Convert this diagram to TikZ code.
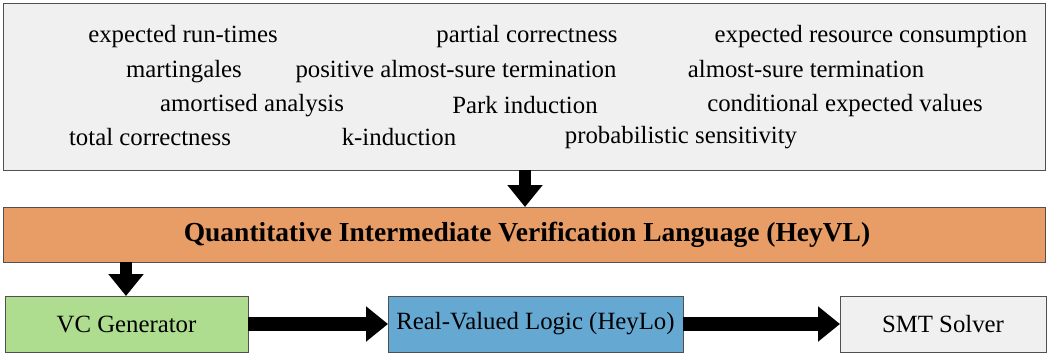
\documentclass[tikz,border=0pt]{standalone}
\usepackage{fontspec}
\setmainfont{Liberation Serif}
\usetikzlibrary{arrows.meta}
\definecolor{boxgray}{HTML}{F0F0F0}
\definecolor{edgegray}{HTML}{505050}
\definecolor{heyorange}{HTML}{E89D66}
\definecolor{heygreen}{HTML}{AEDD8F}
\definecolor{heyblue}{HTML}{65A9D3}
\tikzset{
  panel/.style={draw=edgegray, line width=1pt, inner sep=0pt, outer sep=0pt},
  term/.style={font=\fontsize{24.8}{28}\selectfont, inner sep=0pt, anchor=base},
  boxtext/.style={font=\fontsize{24.8}{28}\selectfont, inner sep=0pt},
  bigarrow/.style={line width=12pt, -{Triangle[length=22pt,width=34pt]}},
}
\begin{document}
\begin{tikzpicture}[x=1pt,y=-1pt]
\useasboundingbox (0,0) rectangle (1050,354);
% top panel
\node[panel, fill=boxgray, minimum width=1042pt, minimum height=167pt, anchor=north west] (top) at (3,3) {};
% terms
\node[term] (t1) at (183,42) {expected run-times};
\node[term] (t2) at (527,42) {partial correctness};
\node[term] (t3) at (871,42) {expected resource consumption};
\node[term] (t4) at (184,77) {martingales};
\node[term] (t5) at (456,77) {positive almost-sure termination};
\node[term] (t6) at (806,77) {almost-sure termination};
\node[term] (t7) at (252,111) {amortised analysis};
\node[term] (t8) at (525,113) {Park induction};
\node[term] (t9) at (845,111) {conditional expected values};
\node[term] (t10) at (150,145) {total correctness};
\node[term] (t11) at (399,145) {k-induction};
\node[term] (t12) at (681,143) {probabilistic sensitivity};
% HeyVL bar
\node[panel, fill=heyorange, minimum width=1042pt, minimum height=55pt, anchor=north west] (hvl) at (3,207) {};
\node[boxtext, font=\fontsize{27.5}{30}\selectfont\bfseries] (hvlt) at (527,235) {Quantitative Intermediate Verification Language (HeyVL)};
% bottom boxes
\node[panel, fill=heygreen, minimum width=243pt, minimum height=56pt, anchor=north west] (vc) at (5,296) {};
\node[boxtext] at (vc.center) {VC Generator};
\node[panel, fill=heyblue, minimum width=295pt, minimum height=56pt, anchor=north west] (hl) at (388,296) {};
\node[boxtext] at (hl.center) {Real-Valued Logic (HeyLo)};
\node[panel, fill=boxgray, minimum width=206pt, minimum height=56pt, anchor=north west] (smt) at (840,296) {};
\node[boxtext] at (smt.center) {SMT Solver};
% arrows
\draw[bigarrow] (top.south -| 525,0) -- (hvl.north -| 525,0);
\draw[bigarrow] (hvl.south -| 126,0) -- (vc.north -| 126,0);
\draw[bigarrow, line width=14pt] (vc.east) -- (hl.west);
\draw[bigarrow, line width=14pt] (hl.east) -- (smt.west);
\end{tikzpicture}
\end{document}
